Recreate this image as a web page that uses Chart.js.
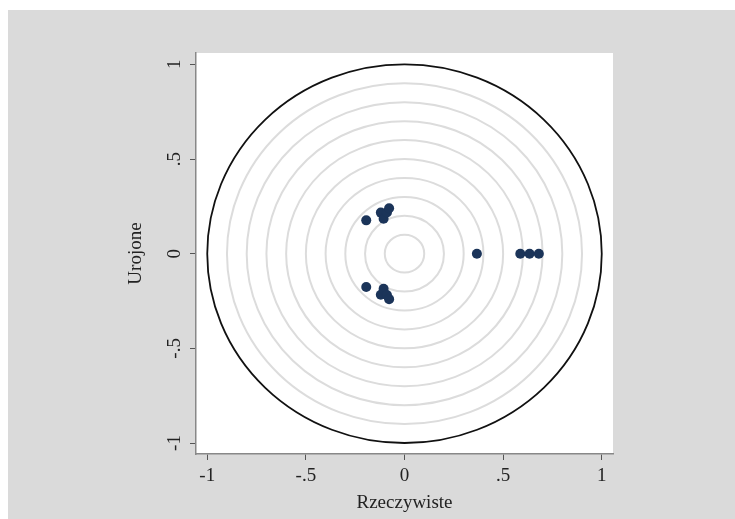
<!DOCTYPE html>
<html>
<head>
<meta charset="utf-8">
<script src="https://cdn.jsdelivr.net/npm/chart.js@4/dist/chart.umd.min.js"></script>
<style>
  html, body { margin: 0; padding: 0; background: #ffffff; }
  #wrap { width: 735px; height: 519px; position: relative; }
</style>
</head>
<body>
<div id="wrap"><canvas id="c" width="735" height="519"></canvas></div>
<script>
// ---- data ----
const realParts = [0.367, 0.587, 0.634, 0.681, -0.194, -0.194, -0.120, -0.120, -0.106, -0.106, -0.089, -0.089, -0.078, -0.078];
const imagParts = [0, 0, 0, 0, 0.176, -0.176, 0.217, -0.217, 0.185, -0.185, 0.218, -0.218, 0.240, -0.240];
const xTickValues = [-1, -0.5, 0, 0.5, 1];
const xTickLabels = ['-1', '-.5', '0', '.5', '1'];
const yTickValues = [-1, -0.5, 0, 0.5, 1];
const yTickLabels = ['-1', '-.5', '0', '.5', '1'];
const gridCircleRadii = [0.1, 0.2, 0.3, 0.4, 0.5, 0.6, 0.7, 0.8, 0.9];
const unitCircleRadius = [1];
const xTitle = 'Rzeczywiste';
const yTitle = 'Urojone';

const points = realParts.map((x, i) => ({ x: x, y: imagParts[i] }));

const bgPlugin = {
  id: 'bg',
  beforeDraw(chart) {
    const ctx = chart.ctx, a = chart.chartArea;
    ctx.save();
    ctx.fillStyle = '#ffffff';
    ctx.fillRect(0, 0, chart.width, chart.height);
    ctx.fillStyle = '#dadada';
    ctx.fillRect(8, 10, chart.width - 8, chart.height - 10);
    ctx.fillStyle = '#ffffff';
    ctx.fillRect(a.left, a.top, a.right - a.left, a.bottom - a.top);
    ctx.restore();
  }
};

const circlesPlugin = {
  id: 'circles',
  beforeDatasetsDraw(chart) {
    const ctx = chart.ctx, xs = chart.scales.x, ys = chart.scales.y, a = chart.chartArea;
    const cx = xs.getPixelForValue(0), cy = ys.getPixelForValue(0);
    ctx.save();
    ctx.beginPath();
    ctx.rect(a.left, a.top, a.right - a.left, a.bottom - a.top);
    ctx.clip();
    const drawRing = (r, color, w) => {
      const rx = Math.abs(xs.getPixelForValue(r) - cx);
      const ry = Math.abs(ys.getPixelForValue(r) - cy);
      ctx.beginPath();
      ctx.ellipse(cx, cy, rx, ry, 0, 0, Math.PI * 2);
      ctx.strokeStyle = color;
      ctx.lineWidth = w;
      ctx.stroke();
    };
    gridCircleRadii.forEach(r => drawRing(r, '#dcdcdc', 2));
    unitCircleRadius.forEach(r => drawRing(r, '#111111', 1.8));
    ctx.restore();
  }
};

const font = { family: "'Liberation Serif', 'Times New Roman', serif", size: 19 };

new Chart(document.getElementById('c'), {
  type: 'scatter',
  data: {
    datasets: [{
      data: points,
      backgroundColor: '#1b3459',
      borderColor: '#1b3459',
      pointRadius: 5,
      pointHoverRadius: 5,
      borderWidth: 0
    }]
  },
  options: {
    responsive: false,
    animation: false,
    events: [],
    layout: { padding: { left: 0, top: 53, right: 122, bottom: 0 } },
    plugins: { legend: { display: false }, tooltip: { enabled: false } },
    scales: {
      x: {
        type: 'linear',
        min: -1.057, max: 1.057,
        afterBuildTicks(s) { s.ticks = xTickValues.map(v => ({ value: v })); },
        afterFit(s) { s.height = 65; },
        ticks: {
          font: font, color: '#222',
          padding: 5,
          maxRotation: 0, minRotation: 0,
          callback(v) { const i = xTickValues.indexOf(v); return i >= 0 ? xTickLabels[i] : ''; }
        },
        grid: { drawOnChartArea: false, drawTicks: true, tickLength: 6, color: '#555', lineWidth: 1 },
        border: { display: true, color: '#888', width: 1.5 },
        title: { display: true, text: xTitle, font: font, color: '#222', padding: { top: 0, bottom: 5 } }
      },
      y: {
        type: 'linear',
        min: -1.058, max: 1.06,
        afterBuildTicks(s) { s.ticks = yTickValues.map(v => ({ value: v })); },
        afterFit(s) { s.width = 196; },
        ticks: {
          font: font, color: '#222',
          padding: 5,
          minRotation: 90, maxRotation: 90,
          crossAlign: 'center',
          callback(v) { const i = yTickValues.indexOf(v); return i >= 0 ? yTickLabels[i] : ''; }
        },
        grid: { drawOnChartArea: false, drawTicks: true, tickLength: 6, color: '#555', lineWidth: 1 },
        border: { display: true, color: '#888', width: 1.5 },
        title: { display: true, text: yTitle, font: font, color: '#222', padding: { top: 125, bottom: 0 } }
      }
    }
  },
  plugins: [bgPlugin, circlesPlugin]
});
</script>
</body>
</html>
